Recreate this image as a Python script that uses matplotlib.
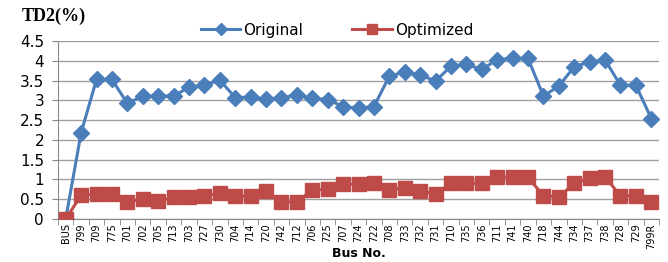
import matplotlib.pyplot as plt
import numpy as np

buses = ['BUS', '799', '709', '775', '701', '702', '705', '713', '703', '727',
         '730', '704', '714', '720', '742', '712', '706', '725', '707', '724',
         '722', '708', '733', '732', '731', '710', '735', '736', '711', '741',
         '740', '718', '744', '734', '737', '738', '728', '729', '799R']

original = [0, 2.18, 3.53, 3.53, 2.92, 3.11, 3.11, 3.11, 3.33, 3.38,
            3.51, 3.07, 3.08, 3.03, 3.07, 3.13, 3.05, 3.02, 2.84, 2.80,
            2.84, 3.61, 3.72, 3.64, 3.49, 3.86, 3.91, 3.78, 4.03, 4.06,
            4.06, 3.11, 3.36, 3.85, 3.97, 4.02, 3.38, 3.38, 2.54]

optimized = [0, 0.60, 0.63, 0.63, 0.44, 0.50, 0.45, 0.55, 0.56, 0.58,
             0.65, 0.58, 0.58, 0.71, 0.42, 0.44, 0.73, 0.75, 0.88, 0.88,
             0.90, 0.73, 0.79, 0.71, 0.63, 0.90, 0.90, 0.90, 1.05, 1.07,
             1.05, 0.59, 0.56, 0.90, 1.03, 1.07, 0.58, 0.59, 0.44]

blue = '#4A7EBB'
red = '#BE4B48'

fig = plt.figure(figsize=(6.68, 2.62), dpi=100)
ax = fig.add_axes([58 / 668, 1 - 219 / 262, 601 / 668, 178 / 262])

x = np.arange(len(buses))
ax.plot(x, original, color=blue, lw=2.2, marker='D', ms=8.5, label='Original', zorder=3)
ax.plot(x, optimized, color=red, lw=2.2, marker='s', ms=9.5, label='Optimized', zorder=3)

ax.set_xlim(-0.5, len(buses) - 0.5)
ax.set_ylim(0, 4.5)
ax.set_yticks(np.arange(0, 4.51, 0.5))
ax.set_yticklabels(['0', '0.5', '1', '1.5', '2', '2.5', '3', '3.5', '4', '4.5'])
ax.yaxis.grid(True, color='#a0a0a0', lw=1)
ax.set_axisbelow(True)

ax.set_xticks(x)
ax.set_xticklabels(buses, rotation=90, fontsize=7, family='DejaVu Sans')
ax.set_xticks(np.arange(-0.5, len(buses), 1), minor=True)
ax.tick_params(axis='x', which='major', length=0, pad=3)
ax.tick_params(axis='x', which='minor', length=4, color='#888888')
ax.tick_params(axis='y', length=4, color='#888888', labelsize=11, pad=6)

for s in ['top', 'right']:
    ax.spines[s].set_visible(False)
ax.spines['left'].set_color('#888888')
ax.spines['bottom'].set_color('#888888')

ax.set_xlabel('Bus No.', fontsize=9, fontweight='bold', labelpad=-1)
fig.text(22 / 668, 1 - 16 / 262, 'TD2(%)', fontsize=13, fontweight='bold',
         family='Liberation Serif', va='center', ha='left')

ax.legend(loc='center', bbox_to_anchor=(337 / 668, 1 - 30 / 262),
          bbox_transform=fig.transFigure, ncol=2, frameon=False,
          fontsize=11, handlelength=2.6, columnspacing=3.2, handletextpad=0.2,
          markerscale=0.75)

fig.savefig('out.png', dpi=100)
